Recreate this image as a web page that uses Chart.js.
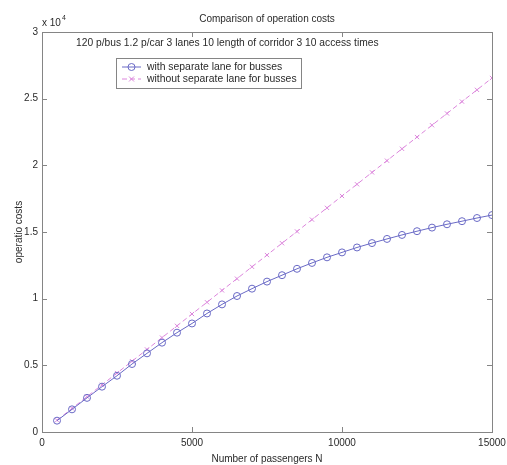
<!DOCTYPE html>
<html>
<head>
<meta charset="utf-8">
<script src="https://cdn.jsdelivr.net/npm/chart.js@4"></script>
<style>
  html, body { margin: 0; padding: 0; background: #fff; }
  #wrap { width: 507px; height: 465px; }
</style>
</head>
<body>
<div id="wrap"><canvas id="costs_chart" width="507" height="465"></canvas></div>
<script>
// values
let passengers = [500, 1000, 1500, 2000, 2500, 3000, 3500, 4000, 4500, 5000,
  5500, 6000, 6500, 7000, 7500, 8000, 8500, 9000, 9500, 10000,
  10500, 11000, 11500, 12000, 12500, 13000, 13500, 14000, 14500, 15000]
let withLane = [850, 1700, 2560, 3400, 4220, 5100, 5900, 6700, 7450, 8140,
  8890, 9570, 10200, 10750, 11280, 11760, 12240, 12680, 13100, 13470,
  13840, 14170, 14480, 14780, 15060, 15330, 15580, 15810, 16050, 16270]
let withoutLane = [880, 1770, 2650, 3540, 4420, 5310, 6190, 7080, 7960, 8850,
  9730, 10620, 11500, 12390, 13270, 14160, 15040, 15930, 16810, 17700,
  18580, 19470, 20350, 21240, 22120, 23010, 23890, 24780, 25660, 26550]
let seriesNames = ['with separate lane for busses', 'without separate lane for busses']
let xTicks = [0, 5000, 10000, 15000]
let yTicks = [0, 5000, 10000, 15000, 20000, 25000, 30000]

let chartTitle = 'Comparison of operation costs'
let subTitle = '120 p/bus 1.2 p/car 3 lanes 10 length of corridor 3 10 access times'

let blueColor = '#6a6ac6'
let pinkColor = '#dc86dc'
let axisColor = '#858585'
let textColor = '#2a2a2a'
let fontFamily = '"Liberation Sans", Arial, sans-serif'

const toPoints = (xs, ys) => xs.map((x, i) => ({ x: x, y: ys[i] }))

// box, inward ticks, title, exponent label and legend like matlab
const matlabFrame = {
  id: 'matlabFrame',
  afterDraw(chart) {
    let { ctx, chartArea: a, scales } = chart
    ctx.save()
    ctx.strokeStyle = axisColor
    ctx.lineWidth = 1
    ctx.strokeRect(Math.round(a.left) + 0.5, Math.round(a.top) + 0.5,
      Math.round(a.width), Math.round(a.height))

    let tickLen = 5
    xTicks.forEach(v => {
      let px = Math.round(scales.x.getPixelForValue(v)) + 0.5
      ctx.beginPath()
      ctx.moveTo(px, a.bottom); ctx.lineTo(px, a.bottom - tickLen)
      ctx.moveTo(px, a.top); ctx.lineTo(px, a.top + tickLen)
      ctx.stroke()
    })
    yTicks.forEach(v => {
      let py = Math.round(scales.y.getPixelForValue(v)) + 0.5
      ctx.beginPath()
      ctx.moveTo(a.left, py); ctx.lineTo(a.left + tickLen, py)
      ctx.moveTo(a.right, py); ctx.lineTo(a.right - tickLen, py)
      ctx.stroke()
    })

    ctx.fillStyle = textColor
    ctx.textBaseline = 'middle'
    ctx.font = '10px ' + fontFamily
    ctx.textAlign = 'center'
    ctx.fillText(chartTitle, (a.left + a.right) / 2, 19)

    // exponent label
    ctx.textAlign = 'left'
    ctx.fillText('x 10', a.left, 23)
    let w = ctx.measureText('x 10').width
    ctx.font = '7px ' + fontFamily
    ctx.fillText('4', a.left + w + 1, 18)

    ctx.font = '10.25px ' + fontFamily
    ctx.fillText(subTitle, 76, 43)

    // legend
    let lx = 116, ly = 58, lw = 185, lh = 30
    ctx.fillStyle = '#fff'
    ctx.fillRect(lx, ly, lw, lh)
    ctx.strokeStyle = axisColor
    ctx.strokeRect(lx + 0.5, ly + 0.5, lw, lh)
    let rows = [
      { color: blueColor, dash: [], marker: 'circle' },
      { color: pinkColor, dash: [5, 3], marker: 'cross' }
    ]
    rows.forEach((r, i) => {
      let ry = ly + 9 + i * 12
      ctx.strokeStyle = r.color
      ctx.setLineDash(r.dash)
      ctx.beginPath()
      ctx.moveTo(lx + 6, ry); ctx.lineTo(lx + 25, ry)
      ctx.stroke()
      ctx.setLineDash([])
      ctx.beginPath()
      if (r.marker === 'circle') {
        ctx.arc(lx + 15.5, ry, 3.5, 0, Math.PI * 2)
      } else {
        ctx.moveTo(lx + 13, ry - 2.5); ctx.lineTo(lx + 18, ry + 2.5)
        ctx.moveTo(lx + 18, ry - 2.5); ctx.lineTo(lx + 13, ry + 2.5)
      }
      ctx.stroke()
      ctx.fillStyle = textColor
      ctx.font = '10.4px ' + fontFamily
      ctx.fillText(seriesNames[i], lx + 31, ry + 0.5)
    })
    ctx.restore()
  }
}

let ctx = document.getElementById('costs_chart')

new Chart(ctx, {
  type: 'line',
  data: {
    datasets: [{
      label: seriesNames[0],
      data: toPoints(passengers, withLane),
      borderColor: blueColor,
      borderWidth: 1,
      pointStyle: 'circle',
      pointRadius: 3.5,
      pointBorderWidth: 1,
      pointBorderColor: blueColor,
      pointBackgroundColor: 'transparent',
      tension: 0
    }, {
      label: seriesNames[1],
      data: toPoints(passengers, withoutLane),
      borderColor: pinkColor,
      borderWidth: 1,
      borderDash: [5, 3],
      pointStyle: 'crossRot',
      pointRadius: 3,
      pointBorderWidth: 1,
      pointBorderColor: pinkColor,
      tension: 0
    }]
  },
  options: {
    responsive: false,
    animation: false,
    events: [],
    layout: {
      padding: { top: 32, right: 15, left: 0, bottom: 0 }
    },
    plugins: {
      legend: { display: false },
      title: { display: false },
      tooltip: { enabled: false }
    },
    scales: {
      x: {
        type: 'linear',
        min: 0,
        max: 15000,
        afterFit: scale => {
          scale.height = 33
          scale.paddingLeft = 0
          scale.paddingRight = 0
        },
        afterBuildTicks: scale => { scale.ticks = xTicks.map(v => ({ value: v })) },
        grid: { display: false, drawTicks: false },
        border: { display: false },
        ticks: {
          padding: 5,
          color: textColor,
          maxRotation: 0,
          font: { family: fontFamily, size: 10 },
          callback: v => String(v)
        },
        title: {
          display: true,
          text: 'Number of passengers N',
          color: textColor,
          padding: { top: 2, bottom: 0 },
          font: { family: fontFamily, size: 10 }
        }
      },
      y: {
        min: 0,
        max: 30000,
        afterFit: scale => { scale.width = 42 },
        afterBuildTicks: scale => { scale.ticks = yTicks.map(v => ({ value: v })) },
        grid: { display: false, drawTicks: false },
        border: { display: false },
        ticks: {
          padding: 4,
          color: textColor,
          font: { family: fontFamily, size: 10 },
          callback: v => String(v / 10000)
        },
        title: {
          display: true,
          text: 'operatio costs',
          color: textColor,
          padding: { top: 13, bottom: 0 },
          font: { family: fontFamily, size: 10 }
        }
      }
    }
  },
  plugins: [matlabFrame]
})
</script>
</body>
</html>
